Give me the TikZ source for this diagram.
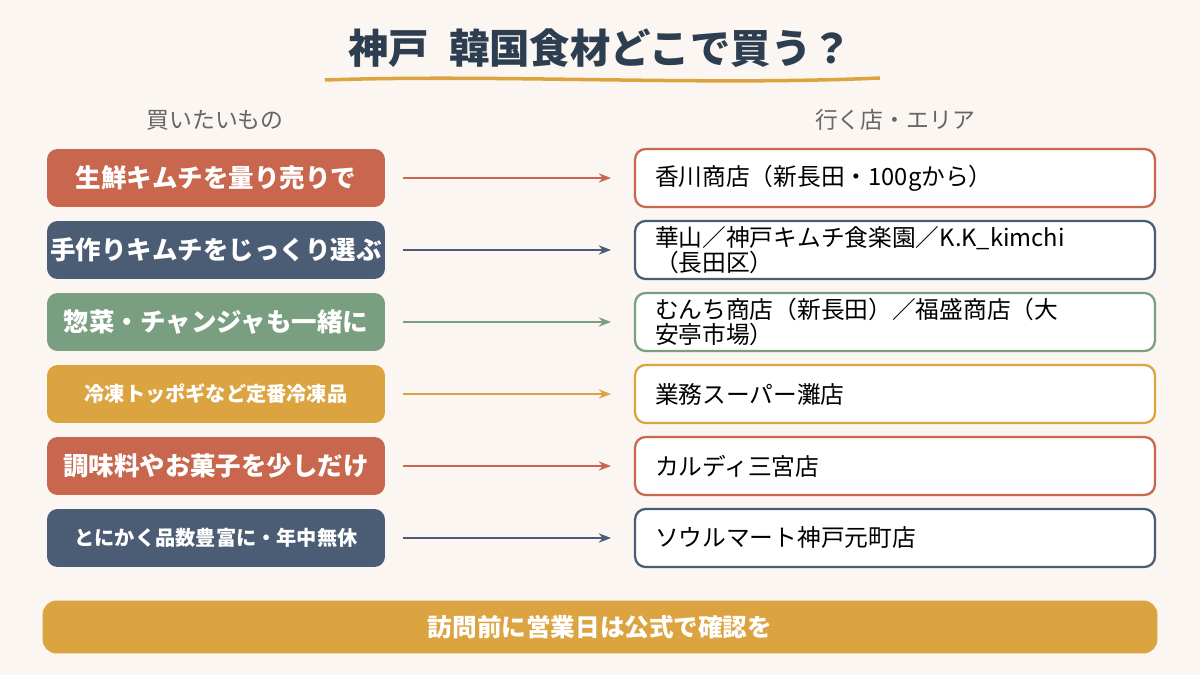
\documentclass[tikz,border=0pt]{standalone}
\usepackage{fontspec}
\setmainfont{Noto Sans CJK JP}
\usepackage{tikz}
\usetikzlibrary{arrows.meta}
\definecolor{bg}{HTML}{FBF6F1}
\definecolor{navy}{HTML}{2D3E50}
\definecolor{cred}{HTML}{C9664E}
\definecolor{cnavy}{HTML}{4A5D74}
\definecolor{cgreen}{HTML}{7A9E80}
\definecolor{cgold}{HTML}{DBA440}
\definecolor{hgray}{HTML}{666666}
\begin{document}
\begin{tikzpicture}[x=0.02cm,y=-0.02cm]
  \tikzstyle{want}=[rounded corners=6pt,text=white,font=\bfseries\fontsize{14.5}{16}\selectfont,minimum height=1.16cm,minimum width=6.76cm,inner sep=0pt]
  \tikzstyle{shop}=[draw,line width=1.3pt,fill=white,rounded corners=6pt,minimum width=10.4cm,minimum height=1.16cm,text width=9.6cm,align=left,font=\fontsize{13.5}{14.5}\selectfont,inner sep=0pt]
  \tikzstyle{link}=[-{Stealth[length=7pt]},line width=1.4pt]
  \fill[bg] (0,0) rectangle (1200,675);

  \node[text=navy,font=\bfseries\fontsize{23}{26}\selectfont] (title) at (600,48) {神戸\enspace 韓国食材どこで買う？};
  \draw[cgold,line width=2pt] (325,80) .. controls (500,74) and (700,86) .. (880,78);
  \node[text=hgray,font=\fontsize{13}{15}\selectfont] (hl) at (215,120) {買いたいもの};
  \node[text=hgray,font=\fontsize{13}{15}\selectfont] (hr) at (895,120) {行く店・エリア};

  \node[want,fill=cred] (l1) at (216,178) {生鮮キムチを量り売りで};
  \node[want,fill=cnavy] (l2) at (216,250) {手作りキムチをじっくり選ぶ};
  \node[want,fill=cgreen] (l3) at (216,322) {惣菜・チャンジャも一緒に};
  \node[want,fill=cgold,font=\bfseries\fontsize{11.5}{13}\selectfont] (l4) at (216,394) {冷凍トッポギなど定番冷凍品};
  \node[want,fill=cred] (l5) at (216,466) {調味料やお菓子を少しだけ};
  \node[want,fill=cnavy,font=\bfseries\fontsize{11.5}{13}\selectfont] (l6) at (216,538) {とにかく品数豊富に・年中無休};

  \node[shop,draw=cred] (r1) at (895,178) {香川商店（新長田・100gから）};
  \node[shop,draw=cnavy] (r2) at (895,250) {華山／神戸キムチ食楽園／K.K\_kimchi\\（長田区）};
  \node[shop,draw=cgreen] (r3) at (895,322) {むんち商店（新長田）／福盛商店（大\\安亭市場）};
  \node[shop,draw=cgold] (r4) at (895,394) {業務スーパー灘店};
  \node[shop,draw=cred] (r5) at (895,466) {カルディ三宮店};
  \node[shop,draw=cnavy] (r6) at (895,538) {ソウルマート神戸元町店};

  \draw[link,cred] ([xshift=10pt]l1.east) -- ([xshift=-13pt]r1.west);
  \draw[link,cnavy] ([xshift=10pt]l2.east) -- ([xshift=-13pt]r2.west);
  \draw[link,cgreen] ([xshift=10pt]l3.east) -- ([xshift=-13pt]r3.west);
  \draw[link,cgold] ([xshift=10pt]l4.east) -- ([xshift=-13pt]r4.west);
  \draw[link,cred] ([xshift=10pt]l5.east) -- ([xshift=-13pt]r5.west);
  \draw[link,cnavy] ([xshift=10pt]l6.east) -- ([xshift=-13pt]r6.west);

  \node[fill=cgold,rounded corners=8pt,minimum width=22.3cm,minimum height=1.06cm,text=white,font=\bfseries\fontsize{14}{16}\selectfont] (note) at (600,627) {訪問前に営業日は公式で確認を};
\end{tikzpicture}
\end{document}
